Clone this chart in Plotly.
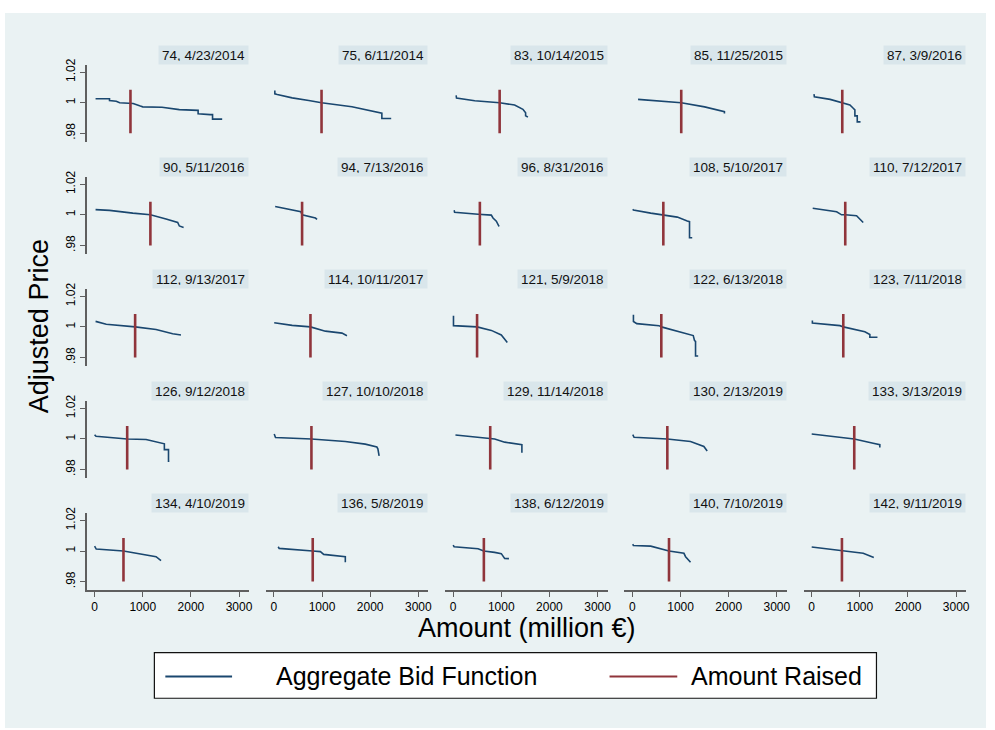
import plotly.graph_objects as go

# ---- auction data -------------------------------------------------------
AUCTION_LABELS = [
    "74, 4/23/2014", "75, 6/11/2014", "83, 10/14/2015", "85, 11/25/2015", "87, 3/9/2016",
    "90, 5/11/2016", "94, 7/13/2016", "96, 8/31/2016", "108, 5/10/2017", "110, 7/12/2017",
    "112, 9/13/2017", "114, 10/11/2017", "121, 5/9/2018", "122, 6/13/2018", "123, 7/11/2018",
    "126, 9/12/2018", "127, 10/10/2018", "129, 11/14/2018", "130, 2/13/2019", "133, 3/13/2019",
    "134, 4/10/2019", "136, 5/8/2019", "138, 6/12/2019", "140, 7/10/2019", "142, 9/11/2019",
]

# amount raised in each auction (million EUR)
AMOUNT_RAISED = [745, 990, 966, 1014, 635,
                 1159, 586, 555, 642, 697,
                 842, 760, 497, 600, 656,
                 677, 780, 770, 725, 884,
                 600, 807, 638, 760, 628]

# aggregate bid function: cumulative amount (million EUR) ...
BID_AMOUNT = [
    [20, 310, 310, 450, 520, 800, 950, 1000, 1400, 1600, 1760, 2150, 2150, 2400, 2450, 2450, 2650],
    [20, 20, 70, 380, 725, 990, 1621, 2105, 2243, 2243, 2437],
    [62, 70, 449, 966, 1277, 1449, 1505, 1505, 1553],
    [117, 600, 1014, 1500, 1911, 1911],
    [48, 55, 383, 635, 794, 863, 897, 897, 946, 946, 1014],
    [20, 310, 794, 1159, 1484, 1726, 1760, 1849],
    [27, 482, 560, 586, 863, 897],
    [21, 30, 518, 793, 828, 897, 946, 960],
    [7, 20, 380, 642, 932, 1139, 1186, 1186, 1242],
    [21, 518, 621, 697, 932, 1035, 1070],
    [20, 242, 842, 1277, 1622, 1794],
    [7, 380, 760, 1070, 1415, 1518],
    [7, 7, 497, 793, 1000, 1070, 1125],
    [21, 21, 90, 552, 600, 932, 1263, 1290, 1311, 1311, 1366],
    [14, 14, 587, 656, 1104, 1208, 1208, 1366],
    [0, 30, 677, 1070, 1449, 1449, 1535, 1535, 1553],
    [7, 34, 780, 1484, 1898, 2139, 2160, 2186],
    [48, 518, 863, 1070, 1380, 1428, 1428],
    [7, 34, 725, 1207, 1484, 1553],
    [0, 884, 1277, 1415, 1415],
    [0, 34, 600, 1000, 1277, 1380],
    [90, 110, 807, 966, 1035, 1401, 1484, 1484],
    [0, 20, 518, 635, 862, 1000, 1070, 1159],
    [7, 20, 380, 760, 1070, 1104, 1207],
    [0, 628, 1070, 1290],
]

# ... and the adjusted price bid at that amount
BID_PRICE = [
    [1.0026, 1.0026, 1.0015, 1.001, 1.0, 0.9995, 0.9978, 0.9973, 0.997, 0.996, 0.9955, 0.995, 0.9928, 0.9922, 0.9922, 0.9893, 0.9893],
    [1.008, 1.0058, 1.0054, 1.0032, 1.0015, 1.0, 0.9974, 0.9942, 0.9932, 0.9897, 0.9897],
    [1.0048, 1.003, 1.0013, 1.0, 0.9985, 0.9957, 0.9935, 0.9915, 0.9906],
    [1.0022, 1.0011, 1.0, 0.9973, 0.9942, 0.993],
    [1.0056, 1.0039, 1.0022, 1.0, 0.9985, 0.9964, 0.9953, 0.9914, 0.9914, 0.9875, 0.9875],
    [1.0034, 1.0029, 1.0011, 1.0, 0.9973, 0.995, 0.9927, 0.9917],
    [1.0054, 1.0025, 1.002, 1.0, 0.9979, 0.997],
    [1.003, 1.0017, 1.0004, 0.9998, 0.9979, 0.9958, 0.9928, 0.9925],
    [1.0036, 1.0031, 1.0011, 1.0, 0.9985, 0.996, 0.9955, 0.985, 0.985],
    [1.0043, 1.002, 1.0, 1.0, 0.9994, 0.9966, 0.995],
    [1.0036, 1.0017, 1.0, 0.9983, 0.9955, 0.9947],
    [1.0027, 1.001, 1.0, 0.9972, 0.9959, 0.9942],
    [1.0072, 1.0008, 1.0, 0.9977, 0.9947, 0.992, 0.9898],
    [1.008, 1.0035, 1.0021, 1.0008, 1.0, 0.9972, 0.9943, 0.9911, 0.9905, 0.981, 0.981],
    [1.0042, 1.0025, 1.0008, 1.0, 0.9968, 0.995, 0.9932, 0.9932],
    [1.0028, 1.0017, 1.0, 0.9996, 0.9968, 0.993, 0.993, 0.9855, 0.9855],
    [1.0032, 1.0009, 1.0, 0.9983, 0.9966, 0.9947, 0.9935, 0.989],
    [1.0026, 1.0009, 1.0, 0.9979, 0.9962, 0.9962, 0.991],
    [1.0028, 1.0011, 1.0, 0.9983, 0.9951, 0.9921],
    [1.0032, 1.0, 0.9972, 0.9963, 0.9944],
    [1.0032, 1.0013, 1.0, 0.998, 0.9963, 0.9937],
    [1.0028, 1.0017, 1.0, 0.9996, 0.9978, 0.9967, 0.9963, 0.9926],
    [1.0039, 1.0028, 1.0015, 1.0, 0.9991, 0.9983, 0.9952, 0.995],
    [1.0045, 1.0036, 1.0032, 1.0, 0.9985, 0.9963, 0.9926],
    [1.0026, 1.0, 0.9985, 0.9958],
]

X_TICKS = [0, 1000, 2000, 3000]
Y_TICKS = [0.98, 1.0, 1.02]
Y_TICK_TEXT = [".98", "1", "1.02"]

# ---- styling ------------------------------------------------------------
W, H = 995, 730
FONT = "Liberation Sans, Arial, sans-serif"
BG = "#EAF2F3"
STRIP = "#D9E6EB"
NAVY = "#1A476F"
MAROON = "#90353B"
AXIS = "#5f5f5f"

N_ROWS, N_COLS = 5, 5
COL_LEFT = [87, 267, 447, 627, 807]
PANEL_W = 163
ROW_TOP = [59, 172, 285, 398, 511]
PANEL_H = 78
X_RANGE = [-165, 3207]
Y_RANGE = [0.9744, 1.025]
RAISED_SPAN = [0.98, 1.0085]


def px(x):
    return x / W


def py(y):
    return 1 - y / H


fig = go.Figure()
layout = {}
annotations = []

for k in range(N_ROWS * N_COLS):
    r, c = divmod(k, N_COLS)
    idx = k + 1
    xa = "x" if idx == 1 else f"x{idx}"
    ya = "y" if idx == 1 else f"y{idx}"
    xkey = "xaxis" if idx == 1 else f"xaxis{idx}"
    ykey = "yaxis" if idx == 1 else f"yaxis{idx}"

    left = COL_LEFT[c]
    top = ROW_TOP[r]

    fig.add_trace(go.Scatter(
        x=BID_AMOUNT[k], y=BID_PRICE[k], mode="lines",
        line=dict(color=NAVY, width=1.6), xaxis=xa, yaxis=ya,
        showlegend=False, hoverinfo="skip",
    ))
    fig.add_trace(go.Scatter(
        x=[AMOUNT_RAISED[k], AMOUNT_RAISED[k]], y=RAISED_SPAN, mode="lines",
        line=dict(color=MAROON, width=2.6), xaxis=xa, yaxis=ya,
        showlegend=False, hoverinfo="skip",
    ))

    bottom_row = r == N_ROWS - 1
    first_col = c == 0
    layout[xkey] = dict(
        domain=[px(left), px(left + PANEL_W)], anchor=ya, range=X_RANGE,
        tickvals=X_TICKS, showticklabels=bottom_row,
        ticks="outside" if bottom_row else "", ticklen=5, tickwidth=1.4, tickcolor=AXIS,
        showline=bottom_row, linecolor=AXIS, linewidth=1.6,
        showgrid=False, zeroline=False, fixedrange=True,
        tickfont=dict(family=FONT, size=12, color="#000"),
    )
    layout[ykey] = dict(
        domain=[py(top + PANEL_H), py(top)], anchor=xa, range=Y_RANGE,
        tickvals=Y_TICKS, ticktext=Y_TICK_TEXT, showticklabels=first_col,
        ticks="outside" if first_col else "", ticklen=5, tickwidth=1.4, tickcolor=AXIS,
        showline=first_col, linecolor=AXIS, linewidth=1.6,
        showgrid=True, gridcolor=BG, gridwidth=1.6, zeroline=False, fixedrange=True,
        tickangle=-90, tickfont=dict(family=FONT, size=12, color="#000"),
    )

    # panel heading strip
    annotations.append(dict(
        text=AUCTION_LABELS[k], xref="paper", yref="paper",
        x=px(left + PANEL_W), y=py(top), xanchor="right", yanchor="bottom",
        showarrow=False, bgcolor=STRIP, borderpad=3, height=12,
        font=dict(family=FONT, size=13.5, color="#111"),
    ))

# axis titles
annotations.append(dict(
    text="Adjusted Price", xref="paper", yref="paper", x=px(40), y=py(323),
    xanchor="center", yanchor="middle", textangle=-90, showarrow=False,
    font=dict(family=FONT, size=27, color="#000"),
))
annotations.append(dict(
    text="Amount (million €)", xref="paper", yref="paper", x=px(529), y=py(627),
    xanchor="center", yanchor="middle", showarrow=False,
    font=dict(family=FONT, size=27, color="#000"),
))

# legend
LEG_BOX = (155, 652, 880, 698)
LEG_Y = 676
legend_items = [("Aggregate Bid Function", NAVY, 166, 233, 275),
                ("Amount Raised", MAROON, 612, 680, 692)]

shapes = [
    dict(type="rect", xref="paper", yref="paper", x0=px(5), y0=py(728), x1=px(990), y1=py(7),
         fillcolor=BG, line=dict(width=0), layer="below"),
    dict(type="rect", xref="paper", yref="paper", x0=px(LEG_BOX[0]), y0=py(LEG_BOX[3]),
         x1=px(LEG_BOX[2]), y1=py(LEG_BOX[1]), fillcolor="white",
         line=dict(color="#111", width=1.2), layer="below"),
]
for name, color, x0, x1, tx in legend_items:
    shapes.append(dict(type="line", xref="paper", yref="paper", x0=px(x0), x1=px(x1),
                       y0=py(LEG_Y), y1=py(LEG_Y), line=dict(color=color, width=2)))
    annotations.append(dict(
        text=name, xref="paper", yref="paper", x=px(tx), y=py(LEG_Y),
        xanchor="left", yanchor="middle", showarrow=False,
        font=dict(family=FONT, size=25, color="#000"),
    ))

fig.update_layout(
    width=W, height=H, margin=dict(l=0, r=0, t=0, b=0),
    paper_bgcolor="white", plot_bgcolor="white",
    showlegend=False, annotations=annotations, shapes=shapes,
    **layout,
)

fig.write_html("out.html", config={"displayModeBar": False})
